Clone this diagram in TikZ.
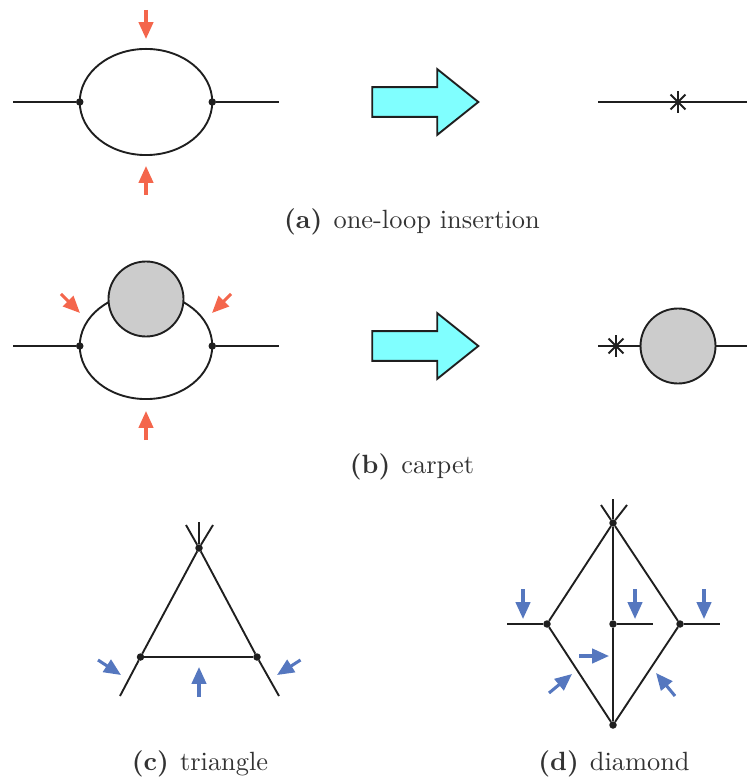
\documentclass[tikz,border=0pt]{standalone}
\usepackage{xcolor}
\usetikzlibrary{shapes.geometric,shapes.arrows,arrows.meta}

\definecolor{insred}{HTML}{F4664C}
\definecolor{insblue}{HTML}{5577BF}
\definecolor{bigcyan}{HTML}{80FFFF}

\tikzset{
  prop/.style={line width=0.68pt, draw=black!88},
  vertex/.style={circle, fill=black!88, inner sep=0pt, outer sep=0pt, minimum size=2.7pt},
  loopline/.style={prop, ellipse, inner sep=0pt, outer sep=0pt, minimum width=47.7pt, minimum height=38.2pt},
  blob/.style={circle, draw=black!88, line width=0.68pt, fill=black!20, inner sep=0pt, outer sep=0pt, minimum size=27pt},
  starmark/.style={circle, inner sep=0pt, outer sep=0pt, minimum size=7.6pt},
  bigarrow/.style={single arrow, draw=black!88, line width=0.68pt, fill=bigcyan, inner xsep=0pt, inner ysep=5pt,
    outer sep=0pt, minimum height=38.2pt, minimum width=23pt, single arrow head extend=6.5pt,
    single arrow tip angle=77.3, single arrow head indent=0pt},
  redarrow/.style={line width=1.1pt, draw=insred, -{Triangle[length=6.1pt,width=5.2pt,fill=insred]}},
  bluearrow/.style={line width=1.1pt, draw=insblue, -{Triangle[length=6.1pt,width=5.2pt,fill=insblue]}},
  subcap/.style={text=black!80, inner sep=0pt, font=\fontsize{9.5}{11}\selectfont}
}

\begin{document}
\begin{tikzpicture}[x=0.36pt, y=-0.36pt]
\useasboundingbox (0,0) rectangle (747,778);

% (a) one-loop insertion
\node[loopline] (loopa) at (146,102) {};
\node[vertex] (aL) at (loopa.west) {};
\node[vertex] (aR) at (loopa.east) {};
\coordinate (aIn) at (13,102);
\coordinate (aOut) at (279,102);
\draw[prop] (aIn) -- (aL);
\draw[prop] (aR) -- (aOut);
\node[bigarrow] (arrowa) at (416,102) {};
\coordinate (aResIn) at (598,102);
\coordinate (aResOut) at (747,102);
\draw[prop] (aResIn) -- (aResOut);
\node[starmark] (stara) at (678,102) {};
\foreach \ang in {45,90,135}
  \draw[prop] (stara.\ang) -- (stara.\ang+180);
\node[subcap] (capa) at (412,221.5) {\textbf{(a)}\hspace{0.42em}one-loop insertion};

% (b) carpet
\node[loopline] (loopb) at (146,346) {};
\node[vertex] (bL) at (loopb.west) {};
\node[vertex] (bR) at (loopb.east) {};
\node[blob] (blobb) at (146,299) {};
\coordinate (bIn) at (13,346);
\coordinate (bOut) at (279,346);
\draw[prop] (bIn) -- (bL);
\draw[prop] (bR) -- (bOut);
\node[bigarrow] (arrowb) at (416,346) {};
\coordinate (bResIn) at (598,346);
\node[blob] (blobres) at (678,346) {};
\coordinate (bResOut) at (747,346);
\draw[prop] (bResIn) -- (blobres);
\draw[prop] (blobres) -- (bResOut);
\node[starmark] (starb) at (616,346) {};
\foreach \ang in {45,90,135}
  \draw[prop] (starb.\ang) -- (starb.\ang+180);
\node[subcap] (capb) at (412,467) {\textbf{(b)}\hspace{0.42em}carpet};

% red insertions
\foreach \name/\from/\to in {ra/{146,10}/{146,39}, rb/{146,195}/{146,166},
    rc/{61,294}/{80,313}, rd/{231,294}/{212,313}, re/{146,440}/{146,411}} {
  \coordinate (\name s) at (\from);
  \coordinate (\name e) at (\to);
  \draw[redarrow] (\name s) -- (\name e);
}

% (c) triangle
\node[vertex] (cT) at (199,548) {};
\node[vertex] (cL) at (140.5,657) {};
\node[vertex] (cR) at (257,657) {};
\coordinate (cLegL) at (120,696);
\coordinate (cLegR) at (279,696);
\coordinate (cUp) at (199,522);
\coordinate (cUpL) at (186,525);
\coordinate (cUpR) at (213,525);
\draw[prop] (cLegL) -- (cL) -- (cT) -- (cR) -- (cLegR);
\draw[prop] (cL) -- (cR);
\draw[prop] (cT) -- (cUp);
\draw[prop] (cT) -- (cUpL);
\draw[prop] (cT) -- (cUpR);
\node[subcap] (capc) at (200,764) {\textbf{(c)}\hspace{0.42em}triangle};

% (d) diamond
\node[vertex] (dT) at (613,523) {};
\node[vertex] (dL) at (547,624) {};
\node[vertex] (dC) at (613,624) {};
\node[vertex] (dR) at (680,624) {};
\node[vertex] (dB) at (613,725) {};
\coordinate (dUp) at (613,499);
\coordinate (dUpL) at (601,505);
\coordinate (dUpR) at (627,505);
\coordinate (dLegL) at (507,624);
\coordinate (dLegC) at (653,624);
\coordinate (dLegR) at (720,624);
\draw[prop] (dT) -- (dL) -- (dB) -- (dR) -- (dT);
\draw[prop] (dUp) -- (dT) -- (dC) -- (dB);
\draw[prop] (dT) -- (dUpL);
\draw[prop] (dT) -- (dUpR);
\draw[prop] (dLegL) -- (dL);
\draw[prop] (dC) -- (dLegC);
\draw[prop] (dR) -- (dLegR);
\node[subcap] (capd) at (614,764) {\textbf{(d)}\hspace{0.42em}diamond};

% blue insertions
\foreach \name/\from/\to in {ba/{98,660}/{121,675}, bb/{300.5,660}/{277,675}, bc/{199,697}/{199,667},
    bd/{523,589}/{523,619}, be/{635,589}/{635,619}, bf/{704,589}/{704,619},
    bg/{579,656}/{609,656}, bh/{549,693}/{572,674}, bi/{675,696}/{656,673}} {
  \coordinate (\name s) at (\from);
  \coordinate (\name e) at (\to);
  \draw[bluearrow] (\name s) -- (\name e);
}
\end{tikzpicture}
\end{document}
